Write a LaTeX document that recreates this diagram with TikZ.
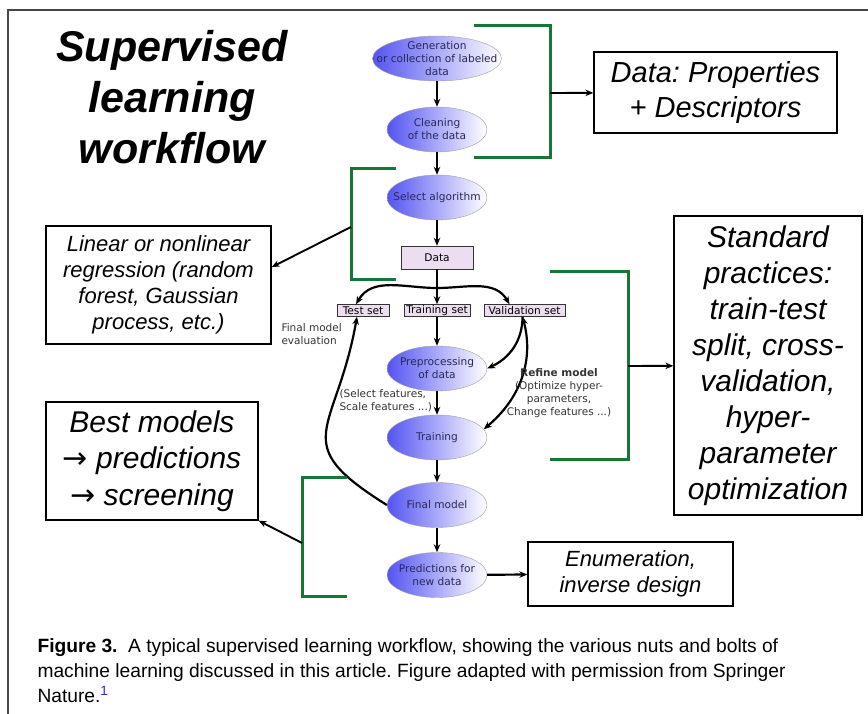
\documentclass[tikz,border=0pt]{standalone}
\usepackage{fontspec}
\setmainfont{Liberation Sans}
\newfontfamily\flowfont{DejaVu Sans}
\newfontfamily\arrowfont{DejaVu Sans}
\usepackage{xcolor}
\usepackage{tikz}
\usetikzlibrary{arrows.meta,calc,positioning,shapes.geometric}
\frenchspacing
\definecolor{stageblue}{RGB}{84,84,242}
\definecolor{stagetext}{RGB}{40,40,90}
\definecolor{setfill}{RGB}{236,222,240}
\definecolor{bracketgreen}{RGB}{22,118,52}
\definecolor{framegray}{RGB}{70,70,70}
\definecolor{refblue}{RGB}{40,40,220}
\newcommand{\thento}{{\arrowfont\upshape →}}
\tikzset{%
	stage/.style   = {ellipse, draw=gray!75, left color=stageblue, right color=white, minimum width=100pt, minimum height=45pt, inner xsep=-12pt, inner ysep=-4pt, align=center, text=stagetext, font=\flowfont\fontsize{10.6}{13}\selectfont}, % workflow step
	setbox/.style  = {draw=black!80, fill=setfill, rectangle, minimum height=12pt, inner sep=0pt, font=\flowfont\fontsize{10.6}{12}\selectfont}, % data split
	note/.style    = {draw, fill=white, rectangle, line width=1.3pt, inner sep=0pt, align=center, font=\itshape\fontsize{22}{26}\selectfont}, % text box
	bracket/.style = {draw=bracketgreen, line width=3pt}, % green brace
	flow/.style    = {->, line width=2.2pt},
	link/.style    = {->, line width=1.9pt},
	remark/.style  = {align=left, text=black!80, font=\flowfont\fontsize{10.5}{13}\selectfont},
}

\begin{document}
\begin{tikzpicture}[x=1pt, y=-1pt, >={Stealth[length=8pt,width=6.5pt]}]
	\useasboundingbox (0,0) rectangle (868,714);
	\draw[framegray, line width=1.3pt] (8,714) |- (868,10);
	\node[align=center, font=\bfseries\itshape\fontsize{43}{51}\selectfont] (title) at (172,97) {Supervised\\learning\\workflow};

	% workflow
	\node[stage, minimum width=129pt, inner xsep=-17pt] (gen) at (437,58.5) {Generation\\or collection of labeled\\data};
	\node[stage, below of=gen, node distance=71pt] (clean) {Cleaning\\of the data};
	\node[stage, below of=clean, node distance=68pt] (algo) {Select algorithm};
	\node[setbox, below of=algo, node distance=60pt, minimum width=72pt, minimum height=23pt] (data) {Data};
	\node[setbox, below of=data, node distance=53pt, minimum width=66pt] (train) {Training set};
	\node[setbox, left of=train, node distance=74pt, minimum width=52pt] (test) {Test set};
	\node[setbox, right of=train, node distance=87.5pt, minimum width=81pt] (valid) {Validation set};
	\node[stage, below of=train, node distance=58pt] (prep) {Preprocessing\\of data};
	\node[stage, below of=prep, node distance=69pt] (training) {Training};
	\node[stage, below of=training, node distance=67.5pt] (final) {Final model};
	\node[stage, below of=final, node distance=70pt] (pred) {Predictions for\\new data};
	\coordinate (split) at (437,288);

	\draw[flow] (gen) -- (clean);
	\draw[flow] (clean) -- (algo);
	\draw[flow] (algo) -- (data);
	\draw[flow] (data) -- (train);
	\draw[flow] (split) to[out=180,in=60] ($(test.north)+(-7,0)$);
	\draw[flow] (split) to[out=0,in=120] ($(valid.north)+(-15,0)$);
	\draw[flow] (train) -- (prep);
	\draw[flow] (prep) -- (training);
	\draw[flow] (training) -- (final);
	\draw[flow] (final) -- (pred);
	\draw[flow] (final.west) to[out=148,in=-100,looseness=1.6] ($(test.south)+(-6,0)$);
	\draw[flow] ($(valid.south)+(-2,0)$) to[out=-90,in=25] (prep.east);
	\draw[flow, <->] ($(valid.south)+(-2,0)$) to[out=-75,in=40] (training.10);

	\node[remark, anchor=west] (evalnote) at (278,334.5) {Final model\\evaluation};
	\node[remark, anchor=west] (featnote) at (336,401) {(Select features,\\Scale features ...)};
	\node[remark, align=center] (refine) at (559,393.5) {\textbf{Refine model}\\(Optimize hyper-\\parameters,\\Change features ...)};

	% boxes
	\node[note, minimum width=243pt, minimum height=81pt, font=\itshape\fontsize{29}{35}\selectfont] (props) at (715.5,92.5) {Data: Properties\\+ Descriptors};
	\node[note, minimum width=225pt, minimum height=118pt] (linear) at (158.5,285) {Linear or nonlinear\\regression (random\\forest, Gaussian\\process, etc.)};
	\node[note, minimum width=212pt, minimum height=118pt, font=\itshape\fontsize{30}{36.5}\selectfont] (best) at (152,461) {Best models\\\thento{} predictions\\\thento{} screening};
	\node[note, minimum width=188pt, minimum height=299pt, font=\itshape\fontsize{30}{36}\selectfont] (std) at (768,365.5) {Standard\\practices:\\train-test\\split, cross-\\validation,\\hyper-\\parameter\\optimization};
	\node[note, minimum width=205pt, minimum height=64pt] (enum) at (630.5,574) {Enumeration,\\inverse design};

	% brackets
	\draw[bracket] (474,26) -| (550,158) -- (474,158);
	\draw[bracket] (396,169) -| (351,280) -- (396,280);
	\draw[bracket] (550,272) -| (628,459) -- (550,459);
	\draw[bracket] (347,477) -| (302,596) -- (347,596);
	\coordinate (dataB) at (550,93);
	\coordinate (algoB) at (351,227);
	\coordinate (setsB) at (628,366);
	\coordinate (finalB) at (302,543);

	\draw[link] (dataB) -- (props);
	\draw[link] (algoB) -- ($(linear.north east)!0.35!(linear.south east)$);
	\draw[link] (setsB) -- (std);
	\draw[link] (finalB) -- (best.south east);
	\draw[flow] (pred) -- (enum);

	% caption
	\node[anchor=west, align=left, font=\fontsize{19.2}{25}\selectfont] (caption) at (34,671) {\textbf{Figure 3.}\ \ A typical supervised learning workflow, showing the various nuts and bolts of\\machine learning discussed in this article. Figure adapted with permission from Springer\\Nature.\textsuperscript{\textcolor{refblue}{1}}};
\end{tikzpicture}
\end{document}
